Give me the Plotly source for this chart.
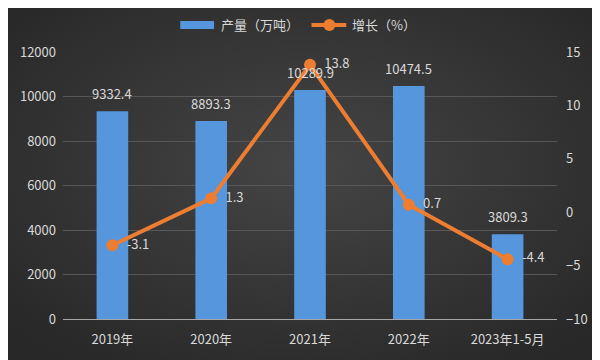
import base64
import plotly.graph_objects as go

categories = ["2019年", "2020年", "2021年", "2022年", "2023年1-5月"]
output_vals = [9332.4, 8893.3, 10289.9, 10474.5, 3809.3]
growth_vals = [-3.1, 1.3, 13.8, 0.7, -4.4]
bar_labels = ["9332.4", "8893.3", "10289.9", "10474.5", "3809.3"]
growth_labels = ["-3.1", "1.3", "13.8", "0.7", "-4.4"]
bar_name = "产量（万吨）"
line_name = "增长（%）"

font_family = "Microsoft YaHei, Noto Sans CJK SC, sans-serif"
txt = "#d9d9d9"
bar_color = "#5596dc"
line_color = "#ed7d31"

W, H = 600, 360
ML, MR, MT, MB = 52, 51, 44, 49
PW, PH = W - ML - MR, H - MT - MB


def px_x(x):
    return (x - ML) / PW


def px_y(y):
    return 1 - (y - MT) / PH


svg = (
    '<svg xmlns="http://www.w3.org/2000/svg" width="600" height="360">'
    '<defs><radialGradient id="g" cx="50%" cy="45%" r="65%">'
    '<stop offset="0%" stop-color="#454545"/>'
    '<stop offset="100%" stop-color="#282828"/>'
    '</radialGradient></defs>'
    '<rect width="600" height="360" fill="url(#g)"/></svg>'
)
bg_src = "data:image/svg+xml;base64," + base64.b64encode(svg.encode()).decode()

fig = go.Figure()
fig.add_trace(go.Bar(
    x=categories, y=output_vals, name=bar_name,
    marker=dict(color=bar_color, line=dict(width=0)),
    width=0.32, showlegend=False,
))
fig.add_trace(go.Scatter(
    x=categories, y=growth_vals, name=line_name, yaxis="y2",
    mode="lines+markers+text",
    line=dict(color=line_color, width=4),
    marker=dict(color=line_color, size=12),
    text=["\u00a0\u00a0" + t for t in growth_labels], textposition="middle right",
    textfont=dict(color=txt, size=13, family=font_family),
    cliponaxis=False, showlegend=False,
))

for c, v, lab in zip(categories, output_vals, bar_labels):
    fig.add_annotation(x=c, y=v, xref="x", yref="y", text=lab, showarrow=False,
                       yanchor="bottom", yshift=6,
                       font=dict(color=txt, size=13, family=font_family))

# custom legend (wide bar swatch like the reference); coords in figure pixels
LY = 17
fig.add_shape(type="rect", xref="paper", yref="paper",
              x0=px_x(170), x1=px_x(204), y0=px_y(LY + 4), y1=px_y(LY - 4),
              fillcolor=bar_color, line=dict(width=0))
fig.add_annotation(xref="paper", yref="paper", x=px_x(209), y=px_y(LY),
                   text=bar_name, showarrow=False, xanchor="left", yanchor="middle",
                   font=dict(color=txt, size=13, family=font_family))
fig.add_shape(type="line", xref="paper", yref="paper",
              x0=px_x(302), x1=px_x(337), y0=px_y(LY), y1=px_y(LY),
              line=dict(color=line_color, width=4))
fig.add_shape(type="circle", xref="paper", yref="paper",
              x0=px_x(314), x1=px_x(326), y0=px_y(LY + 6), y1=px_y(LY - 6),
              fillcolor=line_color, line=dict(width=0))
fig.add_annotation(xref="paper", yref="paper", x=px_x(341), y=px_y(LY),
                   text=line_name, showarrow=False, xanchor="left", yanchor="middle",
                   font=dict(color=txt, size=13, family=font_family))

fig.add_layout_image(dict(source=bg_src, xref="paper", yref="paper",
                          x=px_x(-8), y=px_y(-8), sizex=(W + 8) / PW, sizey=(H + 8) / PH,
                          xanchor="left", yanchor="top", sizing="stretch", layer="below"))

fig.update_layout(
    width=W, height=H,
    margin=dict(l=ML, r=MR, t=MT, b=MB),
    paper_bgcolor="#3a3a3a", plot_bgcolor="rgba(0,0,0,0)",
    font=dict(family=font_family, color=txt, size=12),
    showlegend=False,
    bargap=0.68,
    xaxis=dict(showgrid=False, showline=True, linecolor="#a6a6a6", linewidth=1,
               ticks="", ticklabelstandoff=8, tickfont=dict(size=13, color=txt)),
    yaxis=dict(range=[0, 12000], dtick=2000, tickformat="d", showgrid=True,
               gridcolor="#575757", gridwidth=1, zeroline=False, ticks="",
               ticklabelstandoff=6,
               tickfont=dict(size=13, color=txt), showline=False),
    yaxis2=dict(range=[-10, 15], dtick=5, overlaying="y", side="right",
                showgrid=False, zeroline=False, ticks="", ticklabelstandoff=8,
                tickfont=dict(size=13, color=txt)),
)

fig.write_html("out.html")
